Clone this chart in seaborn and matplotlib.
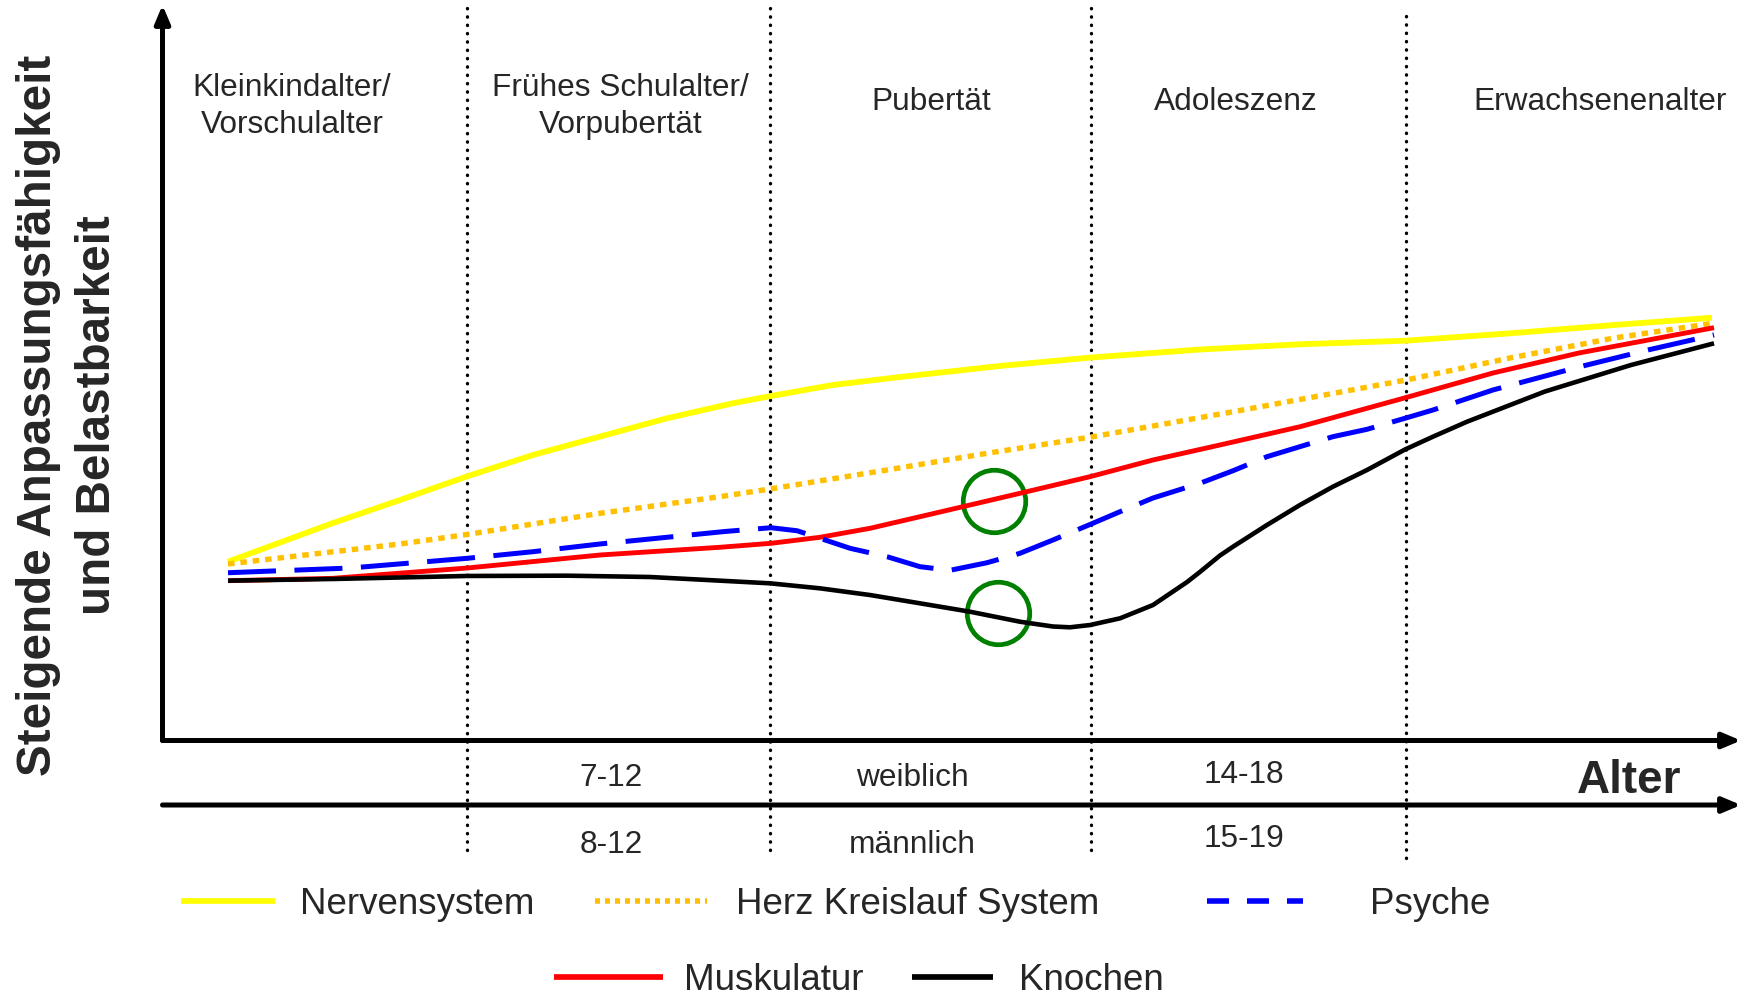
import matplotlib.pyplot as plt
import seaborn as sns
from matplotlib.lines import Line2D

# ---- Data ----
# x = position along the age axis (0-100), y = adaptability / load capacity (0-100)
nerv_x = [4.15, 10.80, 15.05, 19.27, 23.47, 27.73, 31.96, 36.14, 38.55, 42.48,
          46.72, 53.06, 58.82, 65.72, 72.06, 78.78, 85.37, 91.95, 98.16]
nerv_y = [24.31, 29.57, 32.70, 35.89, 38.82, 41.33, 43.81, 45.85, 46.84, 48.34,
          49.42, 50.92, 52.07, 53.16, 53.87, 54.36, 55.36, 56.49, 57.48]

herz_x = [4.15, 15.05, 19.29, 27.72, 35.32, 38.55, 45.90, 52.24, 58.82, 67.82,
          78.78, 85.37, 91.95, 98.16]
herz_y = [24.00, 26.72, 28.01, 30.89, 33.15, 34.22, 36.78, 39.05, 41.26, 44.70,
          49.01, 52.01, 54.72, 56.72]

psyche_x = [4.15, 11.88, 19.29, 23.47, 27.72, 31.96, 35.64, 38.55, 40.20, 41.66,
            43.56, 45.90, 47.99, 49.89, 52.23, 54.32, 56.41, 58.76, 60.66, 62.75,
            65.72, 67.82, 69.97, 72.06, 74.15, 76.31, 78.71, 80.49, 84.29, 89.74,
            94.11, 98.29]
psyche_y = [22.81, 23.45, 24.77, 25.67, 26.72, 27.63, 28.42, 28.93, 28.52, 27.49,
            26.13, 24.99, 23.63, 23.14, 24.17, 25.45, 27.26, 29.37, 31.11, 32.97,
            34.97, 36.68, 38.59, 39.95, 41.31, 42.31, 43.81, 44.94, 47.66, 50.79,
            53.10, 55.14]

musk_x = [4.15, 10.80, 19.29, 27.72, 31.96, 35.32, 38.55, 41.66, 44.82, 47.99,
          51.16, 54.32, 58.76, 62.75, 66.99, 72.06, 78.78, 84.29, 89.74, 98.29]
musk_y = [21.73, 22.05, 23.45, 25.22, 25.81, 26.27, 26.81, 27.63, 28.85, 30.43,
          32.02, 33.61, 35.87, 38.14, 40.18, 42.66, 46.63, 49.97, 52.69, 56.13]

knochen_x = [4.15, 10.80, 19.29, 25.63, 30.88, 35.32, 38.49, 41.65, 44.82, 47.99,
             51.16, 54.32, 56.41, 57.49, 58.76, 60.66, 62.75, 64.91, 65.72, 66.99,
             67.82, 69.97, 72.06, 74.15, 76.31, 78.71, 80.49, 82.64, 87.58, 93.03,
             98.29]
knochen_y = [21.73, 21.96, 22.37, 22.41, 22.23, 21.73, 21.37, 20.69, 19.78, 18.65,
             17.51, 16.15, 15.50, 15.39, 15.70, 16.61, 18.42, 21.55, 22.91, 25.15,
             26.35, 29.30, 32.02, 34.51, 36.78, 39.56, 41.31, 43.34, 47.45, 51.05,
             54.00]

# highlighted spots (green rings)
ring_x = [52.7, 52.9]
ring_y = [32.6, 17.4]

stage_bounds = [19.3, 38.5, 58.8, 78.8]
stage_labels = ["Kleinkindalter/\nVorschulalter", "Frühes Schulalter/\nVorpubertät",
                "Pubertät", "Adoleszenz", "Erwachsenenalter"]
female_ages = ["7-12", "weiblich", "14-18"]
male_ages = ["8-12", "männlich", "15-19"]

# ---- Layout / style ----
stage_label_x = [8.2, 29.0, 48.7, 68.0, 91.1]
stage_label_y = [86.2, 86.2, 86.8, 86.8, 86.8]
age_label_x = [28.4, 47.5, 68.5]
female_y = [-5.1, -5.1, -4.65]
male_y = [-14.2, -14.2, -13.4]

series = [
    ("Nervensystem", nerv_x, nerv_y, "#FFFF00", 4.2, "-"),
    ("Herz Kreislauf System", herz_x, herz_y, "#FFC000", 3.9, (0, (1.2, 1.1))),
    ("Muskulatur", musk_x, musk_y, "#FF0000", 3.5, "-"),
    ("Psyche", psyche_x, psyche_y, "#0000FF", 3.6, (0, (9.6, 3.7))),
    ("Knochen", knochen_x, knochen_y, "#000000", 3.3, "-"),
]

sns.set_style("white")
plt.rcParams["font.family"] = ["Liberation Sans", "DejaVu Sans"]

W, H = 1743, 998
fig = plt.figure(figsize=(W / 100, H / 100), dpi=100)
ax = fig.add_axes([162.5 / W, (H - 740.5) / H, (1741 - 162.5) / W, (740.5 - 5) / H])
ax.set_xlim(0, 100)
ax.set_ylim(0, 100)
ax.axis("off")

# stage boundaries (dotted)
for i, b in enumerate(stage_bounds):
    top, bottom = (100.7, -14.9) if i < 3 else (99.0, -16.0)
    ax.plot([b, b], [bottom, top], color="black", lw=2.4, linestyle=(0, (0.1, 2.4)),
            dash_capstyle="round", clip_on=False, zorder=1)

# green rings
ax.plot(ring_x, ring_y, "o", ms=45, mfc="none", mec="#008000", mew=3.4, zorder=2)

# curves
for name, xs, ys, color, lw, ls in series:
    sns.lineplot(x=xs, y=ys, color=color, linewidth=lw, ax=ax, legend=False,
                 sort=False, estimator=None, zorder=3)
    line = ax.lines[-1]
    line.set_linestyle(ls)
    line.set_solid_capstyle("butt")
    line.set_dash_capstyle("butt")
    line.set_solid_joinstyle("round")

# axes arrows
arrow_kw = dict(arrowstyle="-|>,head_length=0.9,head_width=0.38", color="black",
                lw=3.6, mutation_scale=12, shrinkA=0, shrinkB=0)
ax.annotate("", xy=(100, 0), xytext=(0, 0), arrowprops=arrow_kw, annotation_clip=False)
ax.annotate("", xy=(0, 100), xytext=(0, 0), arrowprops=arrow_kw, annotation_clip=False)
ax.annotate("", xy=(100, -8.77), xytext=(0, -8.77), arrowprops=arrow_kw,
            annotation_clip=False)

# stage names
for lab, x, y in zip(stage_labels, stage_label_x, stage_label_y):
    ax.text(x, y, lab, ha="center", va="center", fontsize=22.8, linespacing=1.34,
            multialignment="center")

# age ranges
for lab, x, y in zip(female_ages, age_label_x, female_y):
    ax.text(x, y, lab, ha="center", va="center", fontsize=22.8, clip_on=False)
for lab, x, y in zip(male_ages, age_label_x, male_y):
    ax.text(x, y, lab, ha="center", va="center", fontsize=22.8, clip_on=False)
ax.text(92.9, -5.55, "Alter", ha="center", va="center", fontsize=33,
        fontweight="bold", clip_on=False)

# y label
fig.text(68 / W, 1 - 415 / H, "Steigende Anpassungsfähigkeit\nund Belastbarkeit",
         rotation=90, ha="center", va="center", fontsize=34.3, fontweight="bold",
         linespacing=1.4, multialignment="center")

# legend (one entry each, placed like the original)
legend_items = [
    ("Nervensystem", Line2D([], [], color="#FFFF00", lw=4.1, solid_capstyle="butt"),
     180.5, 904.7, 2.57, 0.69),
    ("Herz Kreislauf System", Line2D([], [], color="#FFC000", lw=4.0,
                                     linestyle=(0, (0.9, 0.9))), 595, 904.7, 3.04, 0.79),
    ("Psyche", Line2D([], [], color="#0000FF", lw=4.0, linestyle=(0, (3.96, 3.24))),
     1207, 904.7, 2.61, 1.81),
    ("Muskulatur", Line2D([], [], color="#FF0000", lw=4.1, solid_capstyle="butt"),
     553.5, 980.5, 2.98, 0.56),
    ("Knochen", Line2D([], [], color="#000000", lw=4.1, solid_capstyle="butt"),
     912, 980.5, 2.21, 0.69),
]
for lab, h, px, py, hl, pad in legend_items:
    fig.legend(handles=[h], labels=[lab], loc="center left",
               bbox_to_anchor=(px / W, 1 - py / H), frameon=False, fontsize=26.5,
               handlelength=hl, handletextpad=pad, borderpad=0, borderaxespad=0)

fig.savefig("out.png", dpi=100)
plt.close(fig)
